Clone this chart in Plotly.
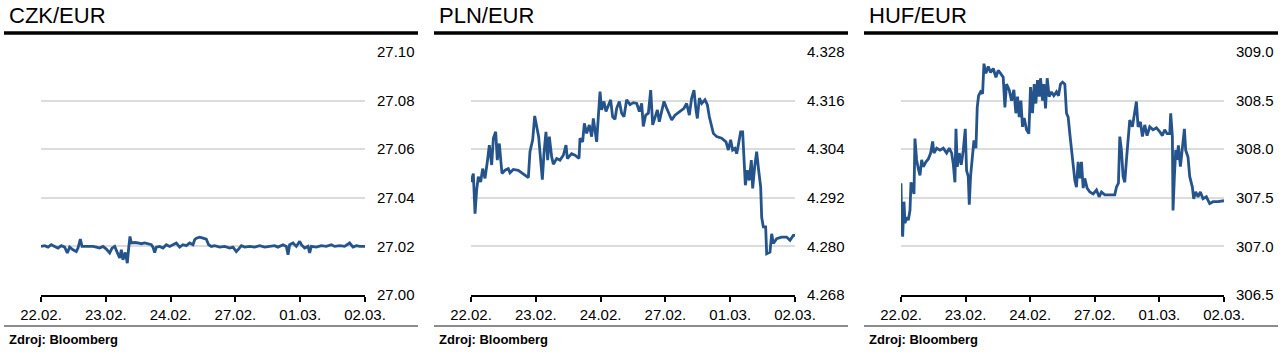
import plotly.graph_objects as go

# ---------------- data ----------------
day_labels = ["22.02.", "23.02.", "24.02.", "27.02.", "01.03.", "02.03."]
day_pos = [0, 1, 2, 3, 4, 5]

czk_x = [0.000, 0.057, 0.108, 0.159, 0.211, 0.262, 0.314, 0.365, 0.406, 0.442, 0.494, 0.545, 0.571, 0.607,
         0.633, 0.674, 0.725, 0.802, 0.854, 0.905, 0.957, 1.008, 1.060, 1.096, 1.137, 1.188, 1.214, 1.240,
         1.265, 1.301, 1.332, 1.353, 1.373, 1.394, 1.445, 1.497, 1.548, 1.600, 1.651, 1.703, 1.728, 1.754,
         1.780, 1.831, 1.883, 1.934, 1.986, 2.037, 2.088, 2.140, 2.191, 2.243, 2.294, 2.346, 2.371, 2.397,
         2.449, 2.500, 2.551, 2.587, 2.629, 2.680, 2.757, 2.834, 2.912, 2.963, 3.014, 3.040, 3.092, 3.143,
         3.220, 3.297, 3.375, 3.452, 3.529, 3.606, 3.657, 3.735, 3.786, 3.812, 3.837, 3.889, 3.940, 3.992,
         4.018, 4.069, 4.120, 4.146, 4.172, 4.249, 4.326, 4.403, 4.481, 4.532, 4.609, 4.686, 4.763, 4.815,
         4.866, 4.918, 5.000]
czk_y = [27.0200, 27.0203, 27.0197, 27.0207, 27.0200, 27.0193, 27.0203, 27.0197, 27.0173, 27.0197, 27.0186,
         27.0179, 27.0193, 27.0230, 27.0200, 27.0200, 27.0203, 27.0200, 27.0197, 27.0193, 27.0200, 27.0189,
         27.0173, 27.0193, 27.0200, 27.0166, 27.0152, 27.0186, 27.0145, 27.0175, 27.0131, 27.0193, 27.0241,
         27.0214, 27.0216, 27.0214, 27.0211, 27.0214, 27.0211, 27.0207, 27.0197, 27.0175, 27.0197, 27.0200,
         27.0193, 27.0207, 27.0200, 27.0207, 27.0214, 27.0197, 27.0207, 27.0203, 27.0214, 27.0207, 27.0227,
         27.0234, 27.0238, 27.0234, 27.0230, 27.0207, 27.0200, 27.0203, 27.0197, 27.0200, 27.0193, 27.0197,
         27.0179, 27.0186, 27.0203, 27.0197, 27.0200, 27.0197, 27.0203, 27.0197, 27.0200, 27.0203, 27.0197,
         27.0207, 27.0200, 27.0166, 27.0207, 27.0214, 27.0200, 27.0221, 27.0207, 27.0193, 27.0200, 27.0173,
         27.0200, 27.0197, 27.0203, 27.0200, 27.0207, 27.0200, 27.0203, 27.0200, 27.0214, 27.0197, 27.0203,
         27.0200, 27.0200]

pln_x = [0.000, 0.036, 0.062, 0.087, 0.113, 0.149, 0.180, 0.216, 0.252, 0.283, 0.319, 0.345, 0.381, 0.406,
         0.437, 0.463, 0.478, 0.525, 0.576, 0.602, 0.653, 0.730, 0.808, 0.885, 0.910, 0.952, 0.983, 1.013,
         1.044, 1.075, 1.101, 1.126, 1.157, 1.183, 1.209, 1.245, 1.271, 1.322, 1.373, 1.425, 1.466, 1.487,
         1.553, 1.605, 1.667, 1.682, 1.723, 1.749, 1.785, 1.826, 1.862, 1.888, 1.914, 1.939, 1.965, 1.991,
         2.016, 2.052, 2.083, 2.119, 2.155, 2.186, 2.222, 2.248, 2.289, 2.325, 2.361, 2.402, 2.454, 2.505,
         2.557, 2.598, 2.634, 2.659, 2.695, 2.737, 2.773, 2.804, 2.840, 2.876, 2.906, 2.942, 2.978, 3.020,
         3.071, 3.097, 3.148, 3.225, 3.287, 3.328, 3.369, 3.405, 3.441, 3.472, 3.493, 3.524, 3.560, 3.611,
         3.647, 3.678, 3.714, 3.740, 3.791, 3.868, 3.935, 3.971, 4.007, 4.038, 4.074, 4.100, 4.125, 4.161,
         4.192, 4.213, 4.234, 4.265, 4.295, 4.326, 4.347, 4.377, 4.408, 4.439, 4.470, 4.486, 4.511, 4.547,
         4.563, 4.614, 4.640, 4.666, 4.717, 4.794, 4.871, 4.923, 4.974, 5.000]
pln_y = [4.2959, 4.2980, 4.2881, 4.2939, 4.2972, 4.2959, 4.2992, 4.2968, 4.3009, 4.3050, 4.3001, 4.3067,
         4.3083, 4.3013, 4.3054, 4.3017, 4.2980, 4.2988, 4.2992, 4.2982, 4.2990, 4.2988, 4.2980, 4.2970,
         4.3034, 4.3063, 4.3122, 4.3096, 4.3071, 4.3013, 4.2965, 4.3029, 4.3083, 4.3013, 4.3071, 4.3021,
         4.3003, 4.3017, 4.3013, 4.3025, 4.3050, 4.3017, 4.3029, 4.3025, 4.3017, 4.3067, 4.3058, 4.3104,
         4.3079, 4.3100, 4.3071, 4.3116, 4.3087, 4.3058, 4.3120, 4.3182, 4.3137, 4.3158, 4.3133, 4.3150,
         4.3162, 4.3120, 4.3114, 4.3141, 4.3158, 4.3129, 4.3120, 4.3162, 4.3150, 4.3155, 4.3153, 4.3133,
         4.3153, 4.3096, 4.3124, 4.3129, 4.3186, 4.3100, 4.3120, 4.3137, 4.3108, 4.3137, 4.3158, 4.3141,
         4.3124, 4.3112, 4.3124, 4.3133, 4.3141, 4.3153, 4.3124, 4.3166, 4.3186, 4.3137, 4.3116, 4.3166,
         4.3153, 4.3162, 4.3150, 4.3120, 4.3100, 4.3079, 4.3071, 4.3067, 4.3058, 4.3038, 4.3063, 4.3038,
         4.3042, 4.3029, 4.3050, 4.3083, 4.3083, 4.3021, 4.2951, 4.2988, 4.2963, 4.3013, 4.2943, 4.2996,
         4.3034, 4.2988, 4.2947, 4.2872, 4.2848, 4.2848, 4.2782, 4.2786, 4.2831, 4.2807, 4.2819, 4.2823,
         4.2823, 4.2815, 4.2827, 4.2827]

huf_x = [0.000, 0.010, 0.026, 0.046, 0.062, 0.088, 0.113, 0.139, 0.155, 0.180, 0.201, 0.216, 0.242, 0.268,
         0.294, 0.320, 0.345, 0.387, 0.423, 0.459, 0.490, 0.510, 0.552, 0.603, 0.655, 0.706, 0.747, 0.784,
         0.809, 0.835, 0.851, 0.871, 0.902, 0.933, 0.964, 0.995, 1.015, 1.041, 1.057, 1.077, 1.108, 1.129,
         1.160, 1.180, 1.201, 1.232, 1.263, 1.284, 1.314, 1.351, 1.387, 1.428, 1.469, 1.505, 1.541, 1.582,
         1.608, 1.634, 1.675, 1.711, 1.747, 1.778, 1.804, 1.830, 1.856, 1.881, 1.907, 1.943, 1.979, 2.005,
         2.036, 2.062, 2.088, 2.113, 2.139, 2.160, 2.191, 2.211, 2.237, 2.263, 2.294, 2.330, 2.366, 2.407,
         2.438, 2.469, 2.500, 2.536, 2.562, 2.588, 2.613, 2.639, 2.665, 2.691, 2.716, 2.742, 2.768, 2.794,
         2.820, 2.845, 2.881, 2.923, 2.974, 3.026, 3.067, 3.103, 3.155, 3.232, 3.309, 3.335, 3.366, 3.387,
         3.412, 3.438, 3.464, 3.490, 3.515, 3.541, 3.582, 3.619, 3.644, 3.670, 3.706, 3.737, 3.773, 3.809,
         3.851, 3.902, 3.954, 4.005, 4.046, 4.082, 4.119, 4.160, 4.175, 4.201, 4.211, 4.232, 4.253, 4.273,
         4.294, 4.325, 4.356, 4.387, 4.407, 4.443, 4.469, 4.510, 4.531, 4.562, 4.598, 4.634, 4.675, 4.727,
         4.778, 4.830, 4.907, 5.000]
huf_y = [307.65, 307.20, 307.10, 307.46, 307.24, 307.30, 307.27, 307.37, 307.66, 307.58, 307.54, 308.11,
         307.89, 307.80, 307.73, 307.89, 307.82, 307.87, 307.90, 307.96, 308.08, 307.96, 308.01, 307.99,
         308.01, 307.96, 308.01, 307.96, 307.85, 307.66, 308.21, 307.82, 307.96, 307.84, 307.99, 308.21,
         307.78, 307.72, 307.43, 307.72, 307.99, 308.09, 308.01, 308.43, 308.55, 308.59, 308.57, 308.88,
         308.78, 308.85, 308.79, 308.83, 308.74, 308.81, 308.78, 308.74, 308.43, 308.67, 308.61, 308.50,
         308.61, 308.37, 308.54, 308.33, 308.50, 308.23, 308.32, 308.20, 308.16, 308.64, 308.37, 308.67,
         308.47, 308.71, 308.54, 308.73, 308.50, 308.67, 308.42, 308.73, 308.54, 308.59, 308.55, 308.59,
         308.55, 308.67, 308.69, 308.67, 308.37, 308.33, 308.16, 307.99, 307.82, 307.68, 307.61, 307.87,
         307.70, 307.87, 307.60, 307.70, 307.60, 307.56, 307.54, 307.58, 307.51, 307.56, 307.53, 307.53,
         307.53, 307.61, 307.65, 308.13, 307.99, 307.72, 307.66, 307.89, 308.06, 308.30, 308.23, 308.37,
         308.49, 308.23, 308.28, 308.13, 308.25, 308.14, 308.23, 308.20, 308.22, 308.18, 308.14, 308.20,
         308.16, 308.16, 308.37, 308.13, 307.37, 307.72, 307.99, 307.89, 308.04, 307.82, 307.99, 308.21,
         307.99, 307.92, 307.72, 307.61, 307.49, 307.56, 307.51, 307.56, 307.49, 307.51, 307.44, 307.46,
         307.46, 307.47]

titles = ["CZK/EUR", "PLN/EUR", "HUF/EUR"]
source_text = "Zdroj: Bloomberg"
y_ranges = [[27.00, 27.10], [4.268, 4.328], [306.5, 309.0]]
y_dticks = [0.02, 0.012, 0.5]
y_formats = [".2f", ".3f", ".1f"]
series_x = [czk_x, pln_x, huf_x]
series_y = [czk_y, pln_y, huf_y]

# ---------------- figure ----------------
W, H = 1284, 354
LINE = "#25548c"
FONT = "Liberation Sans, Arial, sans-serif"

plot_left = [41, 471, 901]
plot_right = [365, 795, 1224]
panel_off = [0, 430, 860]
y_top, y_bot = 52, 295

fig = go.Figure()
layout = dict(
    width=W, height=H, autosize=False,
    margin=dict(l=0, r=0, t=0, b=0, pad=0, autoexpand=False),
    paper_bgcolor="white", plot_bgcolor="white", showlegend=False,
    font=dict(family=FONT, size=15, color="#000000"),
)
shapes = []
annotations = []
for i in range(3):
    n = "" if i == 0 else str(i + 1)
    fig.add_trace(go.Scatter(x=series_x[i], y=series_y[i], mode="lines",
                             line=dict(color=LINE, width=2.8),
                             xaxis="x" + n, yaxis="y" + n, hoverinfo="skip"))
    layout["xaxis" + n] = dict(
        domain=[plot_left[i] / W, plot_right[i] / W], anchor="y" + n, automargin=False,
        range=[0, 5], tickmode="array", tickvals=day_pos, ticktext=day_labels,
        showgrid=False, zeroline=False, showline=True, linecolor="#000000", linewidth=2,
        ticks="outside", ticklen=5, tickwidth=2, tickcolor="#000000",
        tickfont=dict(size=15, family=FONT, color="#000000"),
    )
    layout["yaxis" + n] = dict(
        domain=[1 - y_bot / H, 1 - y_top / H], anchor="x" + n, side="right", automargin=False,
        range=y_ranges[i], dtick=y_dticks[i], tick0=y_ranges[i][0], tickformat=y_formats[i],
        showgrid=True, gridcolor="#dcdcdc", gridwidth=2, zeroline=False, showline=False,
        ticks="", ticklabelstandoff=11,
        tickfont=dict(size=15, family=FONT, color="#000000"),
    )
    off = panel_off[i]
    shapes.append(dict(type="line", xref="paper", yref="paper",
                       x0=(off + 4) / W, x1=(off + 418) / W, y0=1 - 33 / H, y1=1 - 33 / H,
                       line=dict(color="#000000", width=3.5)))
    shapes.append(dict(type="line", xref="paper", yref="paper",
                       x0=(off + 4) / W, x1=(off + 418) / W, y0=1 - 326 / H, y1=1 - 326 / H,
                       line=dict(color="#8c8c8c", width=2)))
    annotations.append(dict(text=titles[i], xref="paper", yref="paper",
                            x=(off + 7) / W, y=1 - 15 / H, xanchor="left", yanchor="middle",
                            showarrow=False, font=dict(size=22, family=FONT, color="#000000")))
    annotations.append(dict(text="<b>" + source_text + "</b>", xref="paper", yref="paper",
                            x=(off + 7) / W, y=1 - 339 / H, xanchor="left", yanchor="middle",
                            showarrow=False, font=dict(size=13, family=FONT, color="#000000")))

layout["shapes"] = shapes
layout["annotations"] = annotations
fig.update_layout(**layout)
fig.write_html("out.html", config={"responsive": False, "displayModeBar": False})
